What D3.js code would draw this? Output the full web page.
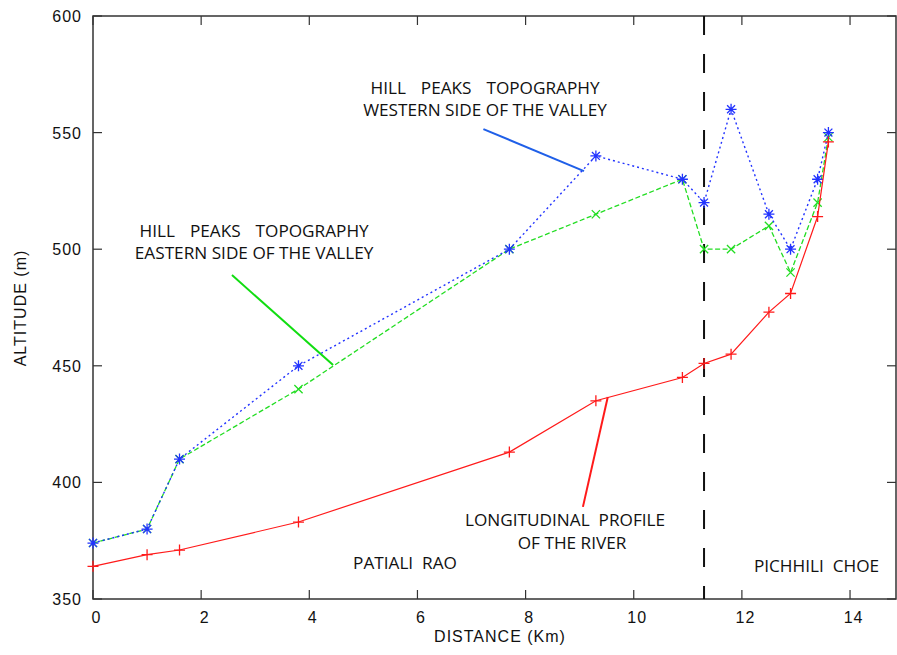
<!DOCTYPE html>
<html>
<head>
	<meta charset="utf-8" />
	<title>Altitude profile</title>
	<script src="https://d3js.org/d3.v7.min.js"></script>
	<style type="text/css">
		body { margin: 0; background: #fff; }
		.tick-label { font-family: "Liberation Sans", Arial, sans-serif; font-size: 16px; letter-spacing: 1px; fill: #111; }
		.axis-title { font-family: "Liberation Sans", Arial, sans-serif; font-size: 16px; letter-spacing: 1px; fill: #111; }
		.note { font-family: "Open Sans", "Noto Sans", sans-serif; font-size: 17.2px; fill: #111; white-space: pre; }
	</style>
</head>
<body>
	<div id="chart"></div>
	<script>
		// values
		const distance = [0, 1.0, 1.6, 3.8, 7.7, 9.3, 10.9, 11.3, 11.8, 12.5, 12.9, 13.4, 13.6];
		const riverProfile = [364, 369, 371, 383, 413, 435, 445, 451, 455, 473, 481, 514, 546];
		const westernPeaks = [374, 380, 410, 450, 500, 540, 530, 520, 560, 515, 500, 530, 550];
		const easternPeaks = [374, 380, 410, 440, 500, 515, 530, 500, 500, 510, 490, 520, 548];
		const xTicks = [0, 2, 4, 6, 8, 10, 12, 14];
		const yTicks = [350, 400, 450, 500, 550, 600];
		const boundaryKm = 11.3;

		const width = 897;
		const height = 655;
		const plotLeft = 93, plotTop = 16, plotRight = 896, plotBottom = 599;

		const svg = d3.select("#chart")
			.append("svg")
			.attr("width", width)
			.attr("height", height);

		const x = d3.scaleLinear().domain([0, 14.85]).range([plotLeft, plotRight]);
		const y = d3.scaleLinear().domain([350, 600]).range([plotBottom, plotTop]);

		// frame
		svg.append("rect")
			.attr("x", plotLeft).attr("y", plotTop)
			.attr("width", plotRight - plotLeft).attr("height", plotBottom - plotTop)
			.attr("fill", "none")
			.attr("stroke", "#333")
			.attr("stroke-width", 1.5);

		// inward ticks on all four sides
		const tickLen = 9;
		const g = svg.append("g").attr("stroke", "#333").attr("stroke-width", 1.2);
		xTicks.forEach(t => {
			g.append("line").attr("x1", x(t)).attr("x2", x(t)).attr("y1", plotBottom).attr("y2", plotBottom - tickLen);
			g.append("line").attr("x1", x(t)).attr("x2", x(t)).attr("y1", plotTop).attr("y2", plotTop + tickLen);
		});
		yTicks.forEach(t => {
			g.append("line").attr("x1", plotLeft).attr("x2", plotLeft + tickLen).attr("y1", y(t)).attr("y2", y(t));
			g.append("line").attr("x1", plotRight).attr("x2", plotRight - tickLen).attr("y1", y(t)).attr("y2", y(t));
		});

		svg.selectAll(".xl")
			.data(xTicks)
			.enter()
			.append("text")
			.attr("class", "tick-label")
			.attr("x", d => x(d) + 3.5)
			.attr("y", plotBottom + 24)
			.attr("text-anchor", "middle")
			.text(d => d);

		svg.selectAll(".yl")
			.data(yTicks)
			.enter()
			.append("text")
			.attr("class", "tick-label")
			.attr("x", plotLeft - 11)
			.attr("y", d => y(d) + 6)
			.attr("text-anchor", "end")
			.text(d => d);

		svg.append("text")
			.attr("class", "axis-title")
			.attr("x", 500).attr("y", 642)
			.attr("text-anchor", "middle")
			.text("DISTANCE (Km)");

		svg.append("text")
			.attr("class", "axis-title")
			.attr("transform", "translate(26,308) rotate(-90)")
			.attr("text-anchor", "middle")
			.text("ALTITUDE (m)");

		// boundary between the two streams
		svg.append("line")
			.attr("x1", x(boundaryKm)).attr("x2", x(boundaryKm))
			.attr("y1", y(600)).attr("y2", y(350))
			.attr("stroke", "#111")
			.attr("stroke-width", 2)
			.attr("stroke-dasharray", "19,19");

		const line = d3.line().x((d, i) => x(distance[i])).y(d => y(d));

		const series = [
			{ values: easternPeaks, color: "#22dd22", dash: "5,2.5", width: 1.3, marker: "x" },
			{ values: westernPeaks, color: "#2233ff", dash: "2,3", width: 1.4, marker: "star" },
			{ values: riverProfile, color: "#ff1a1a", dash: null, width: 1.2, marker: "plus" }
		];

		series.forEach(s => {
			svg.append("path")
				.attr("d", line(s.values))
				.attr("fill", "none")
				.attr("stroke", s.color)
				.attr("stroke-width", s.width)
				.attr("stroke-dasharray", s.dash);

			const r = 5.5;
			let shape = "";
			if (s.marker === "plus") shape = `M${-r},0H${r}M0,${-r}V${r}`;
			if (s.marker === "x") shape = `M${-r*0.75},${-r*0.75}L${r*0.75},${r*0.75}M${-r*0.75},${r*0.75}L${r*0.75},${-r*0.75}`;
			if (s.marker === "star") shape = `M${-r},0H${r}M0,${-r}V${r}M${-r*0.72},${-r*0.72}L${r*0.72},${r*0.72}M${-r*0.72},${r*0.72}L${r*0.72},${-r*0.72}`;

			svg.append("g")
				.selectAll("path")
				.data(s.values)
				.enter()
				.append("path")
				.attr("transform", (d, i) => `translate(${x(distance[i])},${y(d)})`)
				.attr("d", shape)
				.attr("fill", "none")
				.attr("stroke", s.color)
				.attr("stroke-width", 1.3);
		});

		// annotations
		const pointers = [
			{ from: [7.22, 551.5], to: [9.08, 533.5], color: "#1f5fe8" },
			{ from: [2.57, 488.9], to: [4.44, 450.3], color: "#11dd11" },
			{ from: [9.06, 389.5], to: [9.52, 436.6], color: "#ff1a1a" }
		];
		pointers.forEach(p => {
			svg.append("line")
				.attr("x1", x(p.from[0])).attr("y1", y(p.from[1]))
				.attr("x2", x(p.to[0])).attr("y2", y(p.to[1]))
				.attr("stroke", p.color)
				.attr("stroke-width", 2);
		});

		const notes = [
			{ text: "HILL  PEAKS  TOPOGRAPHY", at: [7.25, 569.1], ws: 3 },
			{ text: "WESTERN SIDE OF THE VALLEY", at: [7.25, 559.7], ws: 0 },
			{ text: "HILL  PEAKS  TOPOGRAPHY", at: [2.98, 507.8], ws: 3 },
			{ text: "EASTERN SIDE OF THE VALLEY", at: [2.98, 498.4], ws: 0 },
			{ text: "LONGITUDINAL  PROFILE", at: [8.73, 383.9], ws: 0 },
			{ text: "OF THE RIVER", at: [8.86, 374.0], ws: 0 },
			{ text: "PATIALI  RAO", at: [5.77, 365.4], ws: 0 },
			{ text: "PICHHILI  CHOE", at: [13.38, 364.0], ws: 0 }
		];
		svg.selectAll(".note")
			.data(notes)
			.enter()
			.append("text")
			.attr("class", "note")
			.attr("x", d => x(d.at[0]))
			.attr("y", d => y(d.at[1]) + 6)
			.attr("text-anchor", "middle")
			.style("word-spacing", d => d.ws + "px")
			.text(d => d.text);
	</script>
</body>
</html>
